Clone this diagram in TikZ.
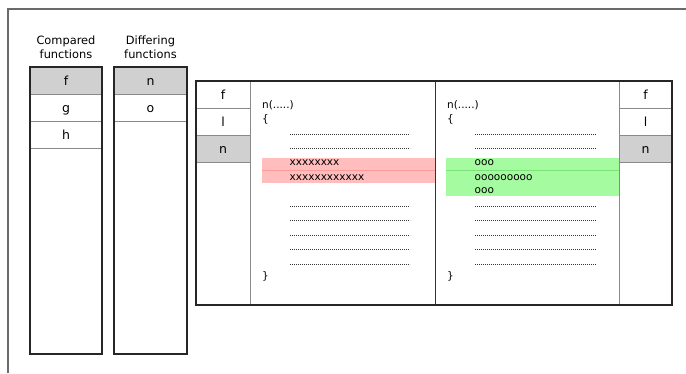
\documentclass[tikz,border=0pt]{standalone}
\usepackage{fontspec}
\setmainfont{DejaVu Sans}
\definecolor{frameg}{HTML}{6A6A6A}
\definecolor{cellg}{HTML}{D0D0D0}
\definecolor{rowline}{HTML}{8A8A8A}
\definecolor{redfill}{HTML}{FFBDBD}
\definecolor{redline}{HTML}{FF9A9A}
\definecolor{greenfill}{HTML}{A5FBA0}
\definecolor{greenline}{HTML}{7BE476}
\tikzset{
  outerframe/.style={draw=frameg,line width=1.4pt},
  colbox/.style={draw=black!85,line width=1.5pt},
  rowsep/.style={draw=rowline,line width=0.6pt},
  innersep/.style={draw=black!80,line width=0.7pt},
  cellfill/.style={fill=cellg},
  celltext/.style={font=\fontsize{12.5}{14}\selectfont,inner sep=0pt,anchor=base},
  headtext/.style={font=\fontsize{11.4}{14.5}\selectfont,align=center,inner sep=0pt},
  codetext/.style={font=\fontsize{10.5}{12}\selectfont,inner sep=0pt,anchor=base west},
  dotline/.style={draw=black!80,line width=0.8pt,dash pattern=on 0.7pt off 1.3pt},
}
\begin{document}
\begin{tikzpicture}[x=1pt,y=-1pt]
\useasboundingbox (0,0) rectangle (686,373);
% outer frame (top and left)
\coordinate (fbl) at (8,373);
\coordinate (ftl) at (8,9);
\coordinate (ftr) at (686,9);
\draw[outerframe] (fbl) -- (ftl) -- (ftr);

% headers
\node[headtext] (hcomp) at (66,47) {Compared\\functions};
\node[headtext] (hdiff) at (150.5,47) {Differing\\functions};

% compared functions column
\fill[cellfill] (30,67) rectangle (102,94);
\draw[rowsep] (30,94) -- (102,94) (30,121) -- (102,121) (30,148) -- (102,148);
\draw[colbox] (30,67) rectangle (102,354);
\node[celltext] (cf) at (66,85) {f};
\node[celltext] (cg) at (66,112) {g};
\node[celltext] (ch) at (66,139) {h};

% differing functions column
\fill[cellfill] (114,67) rectangle (187,94);
\draw[rowsep] (114,94) -- (187,94) (114,121) -- (187,121);
\draw[colbox] (114,67) rectangle (187,354);
\node[celltext] (dn) at (150.5,85) {n};
\node[celltext] (do) at (150.5,112) {o};

% main panel
\fill[cellfill] (196,135) rectangle (250,162);
\fill[cellfill] (619,135) rectangle (672,162);
% highlights
\fill[redfill] (262,158) rectangle (435,183);
\draw[draw=redline,line width=0.6pt] (262,170.5) -- (435,170.5);
\fill[greenfill] (446,158) rectangle (619,196);
\draw[draw=greenline,line width=0.6pt] (446,170.5) -- (619,170.5);

\draw[rowsep] (196,108) -- (250,108) (196,135) -- (250,135) (196,162) -- (250,162);
\draw[rowsep] (619,108) -- (672,108) (619,135) -- (672,135) (619,162) -- (672,162);
\draw[rowsep] (250,81) -- (250,305);
\draw[rowsep] (619,81) -- (619,305);
\draw[innersep] (435,81) -- (435,305);
\draw[colbox] (196,81) rectangle (672,305);

\node[celltext] (lf) at (223,99) {f};
\node[celltext] (ll) at (223,126) {l};
\node[celltext] (ln) at (223,153) {n};
\node[celltext] (rf) at (645.5,99) {f};
\node[celltext] (rl) at (645.5,126) {l};
\node[celltext] (rn) at (645.5,153) {n};

% left code
\node[codetext] (lhead) at (262,108) {n(.....)};
\node[codetext] (lopen) at (262,122) {\{};
\node[codetext] (lx1) at (289.5,165) {xxxxxxxx};
\node[codetext] (lx2) at (289.5,180) {xxxxxxxxxxxx};
\node[codetext] (lclose) at (262,279) {\}};
\foreach \yy in {134,148,206,220,235,249,264}
  \draw[dotline] (290,\yy) -- (410,\yy);

% right code
\node[codetext] (rhead) at (447,108) {n(.....)};
\node[codetext] (ropen) at (447,122) {\{};
\node[codetext] (ro1) at (474.5,165) {ooo};
\node[codetext] (ro2) at (474.5,180) {ooooooooo};
\node[codetext] (ro3) at (474.5,193.5) {ooo};
\node[codetext] (rclose) at (447,279) {\}};
\foreach \yy in {134,148,206,220,235,249,264}
  \draw[dotline] (475,\yy) -- (596,\yy);
\end{tikzpicture}
\end{document}
